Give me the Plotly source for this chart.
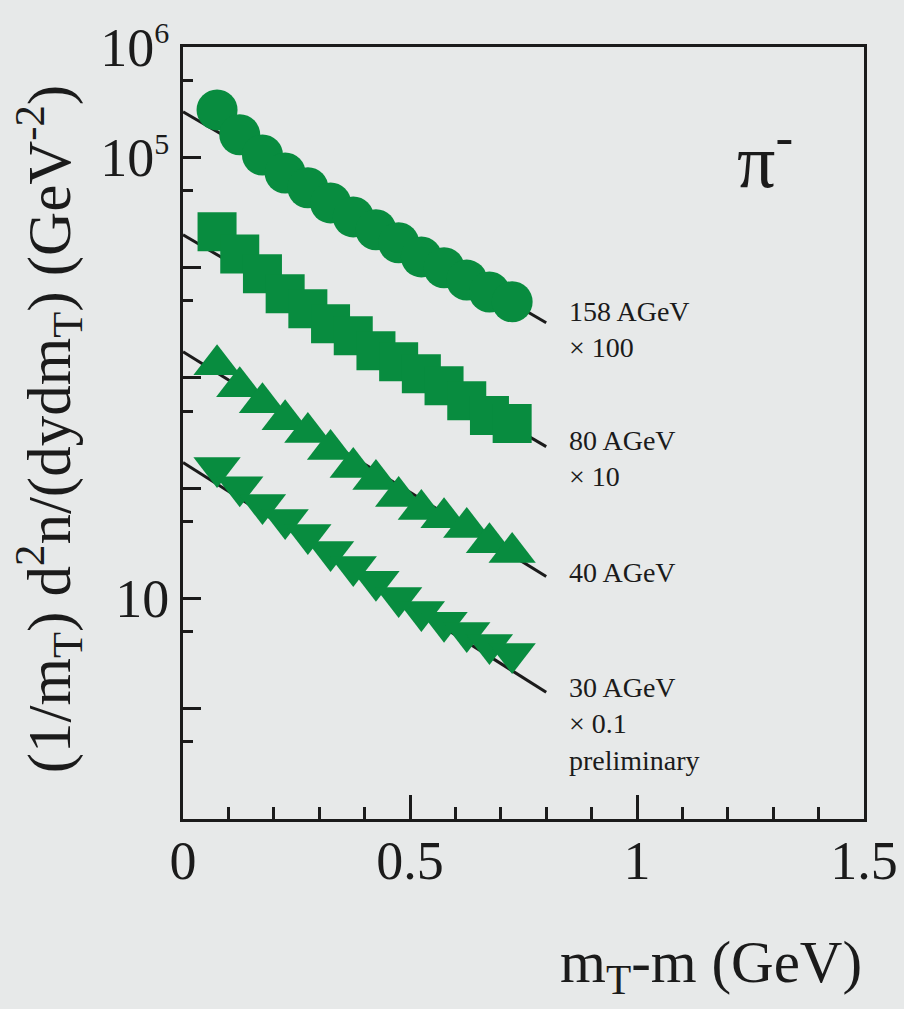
import plotly.graph_objects as go

# ---- data ----
mt_m = [0.075, 0.125, 0.175, 0.225, 0.275, 0.325, 0.375, 0.425, 0.475, 0.525, 0.575, 0.625, 0.675, 0.725]
y158 = [2.69e5, 1.60e5, 1.05e5, 7.2e4, 5.3e4, 3.86e4, 2.88e4, 2.2e4, 1.68e4, 1.25e4, 9.95e3, 7.7e3, 6.0e3, 4.9e3]
y80 = [21100, 13300, 8790, 5790, 4240, 3100, 2410, 1760, 1400, 1090, 849, 621, 455, 385]
y40 = [1318, 832, 596, 418, 319, 224, 154, 120, 84, 64, 54, 44, 32, 26.1]
y30 = [154, 103, 71, 52, 38, 26.7, 19.5, 14.3, 10.2, 7.6, 6.07, 4.92, 3.83, 3.16]

fit_x = [0.0, 0.8]
fit158 = [2.58e5, 3.16e3]
fit80 = [1.98e4, 238]
fit40 = [1726, 15.8]
fit30 = [170.6, 1.41]

series_labels = ["158 AGeV<br>× 100", "80 AGeV<br>× 10", "40 AGeV", "30 AGeV<br>× 0.1<br>preliminary"]
label_y_log = [3.44, 2.27, 1.236, -0.14]

SUP = "<sup><span style='font-size:30px'>{}</span></sup>"
y_major = [0.1, 1, 10, 100, 1e3, 1e4, 1e5, 1e6]
y_major_text = ["", "", "10", "", "", "", "10" + SUP.format("5"), "10" + SUP.format("6")]
y_minor = [0.5, 5, 50, 500, 5e3, 5e4, 5e5]
x_major = [0, 0.5, 1, 1.5]
x_major_text = ["0", "0.5", "1", "1.5"]

GREEN = "#088c3f"
BG = "#e7e9e9"
FONT = "Liberation Serif, Times New Roman, serif"
INK = "#1b1b1b"

fig = go.Figure()

for fy in [fit158, fit80, fit40, fit30]:
    fig.add_trace(go.Scatter(x=fit_x, y=fy, mode="lines",
                             line=dict(color=INK, width=3), showlegend=False, hoverinfo="skip"))

for ys, sym, sz in [(y158, "circle", 41), (y80, "square", 39), (y40, "triangle-up", 41), (y30, "triangle-down", 41)]:
    fig.add_trace(go.Scatter(x=mt_m, y=ys, mode="markers",
                             marker=dict(symbol=sym, size=sz, color=GREEN, line=dict(width=0)),
                             showlegend=False))

for txt, ly in zip(series_labels, label_y_log):
    fig.add_annotation(x=0.846, y=ly, xref="x", yref="y", text=txt, showarrow=False,
                       xanchor="left", yanchor="middle", align="left",
                       font=dict(family=FONT, size=28, color=INK))

fig.add_annotation(x=1.215, y=5.02, xref="x", yref="y", text="π<sup>-</sup>", showarrow=False,
                   xanchor="left", yanchor="middle", font=dict(family=FONT, size=76, color=INK))

fig.add_annotation(x=1.0, y=-0.19, xref="paper", yref="paper",
                   text="m<sub>T</sub>-m (GeV)", showarrow=False,
                   xanchor="right", yanchor="middle", font=dict(family=FONT, size=59, color=INK))

fig.add_annotation(x=-0.198, y=0.505, xref="paper", yref="paper",
                   text="(1/m<sub>T</sub>) d<sup>2</sup>n/(dydm<sub>T</sub>) (GeV<sup>-2</sup>)",
                   showarrow=False, textangle=-90, xanchor="center", yanchor="middle",
                   font=dict(family=FONT, size=61, color=INK))

fig.update_layout(
    width=904, height=1009,
    margin=dict(l=183, r=40, t=47, b=190),
    paper_bgcolor=BG, plot_bgcolor=BG,
    font=dict(family=FONT, color=INK),
    xaxis=dict(range=[0, 1.5], showgrid=False, zeroline=False, automargin=False,
               showline=True, linecolor=INK, linewidth=3, mirror=True,
               tickmode="array", tickvals=x_major, ticktext=x_major_text,
               ticks="inside", ticklen=24, tickwidth=3, tickcolor=INK,
               ticklabelstandoff=-8,
               tickfont=dict(family=FONT, size=54, color=INK),
               minor=dict(dtick=0.1, ticks="inside", ticklen=12, tickwidth=3, tickcolor=INK, showgrid=False)),
    yaxis=dict(type="log", range=[-1, 6], showgrid=False, zeroline=False, automargin=False,
               showline=True, linecolor=INK, linewidth=3, mirror=True,
               tickmode="array", tickvals=y_major, ticktext=y_major_text,
               ticks="inside", ticklen=18, tickwidth=3, tickcolor=INK,
               tickfont=dict(family=FONT, size=54, color=INK),
               minor=dict(tickmode="array", tickvals=y_minor, ticks="inside", ticklen=10,
                          tickwidth=3, tickcolor=INK, showgrid=False)),
)

fig.write_html("out.html", config={"displayModeBar": False})

# remove the browser's default page margin so the figure sits at the window's corner
with open("out.html", "r", encoding="utf-8") as f:
    html = f.read()
html = html.replace("<head>", "<head><style>html,body{margin:0;padding:0;background:%s;}</style>" % BG, 1)
with open("out.html", "w", encoding="utf-8") as f:
    f.write(html)
